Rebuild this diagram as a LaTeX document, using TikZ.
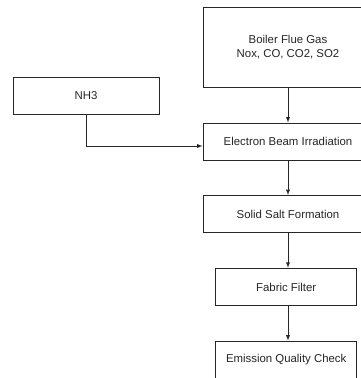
\documentclass[tikz,border=0pt]{standalone}
\usepackage{fontspec}
\setmainfont{Liberation Sans}
\usepackage{tikz}
\usetikzlibrary{positioning,calc}
\definecolor{flowline}{rgb}{0.15, 0.15, 0.15}
\tikzstyle{flowedge} = [flowline, line width = 0.9pt, -latex]
\tikzstyle{flowbox} = [rectangle, draw = flowline, line width = 0.9pt, fill = white, text = black!85, inner sep = 0pt, minimum height = 37pt, align = center, font = \fontsize{11.4}{13.5}\selectfont]
\tikzstyle{widebox} = [minimum width = 170pt]
\tikzstyle{narrowbox} = [minimum width = 146pt]
\begin{document}
\begin{tikzpicture}[x = 1pt, y = -1pt]
\useasboundingbox (0, 0) rectangle (360, 378);
\node[flowbox, widebox, minimum height = 80pt] (gas) at (288, 47.3) {Boiler Flue Gas\\Nox, CO, CO2, SO2};
\node[flowbox, narrowbox] (nh3) at (86, 95.5) {NH3};
\node[flowbox, widebox] (ebeam) at (288, 141.5) {Electron Beam Irradiation};
\node[flowbox, widebox] (salt) at (288, 214) {Solid Salt Formation};
\node[flowbox, minimum width = 141pt, minimum height = 37.5pt] (filter) at (286.2, 287) {Fabric Filter};
\node[flowbox, minimum width = 141pt] (check) at (286.2, 359.5) {Emission Quality Check};
\draw[flowedge] (gas) -- (ebeam);
\draw[flowedge] (nh3.south) |- ([yshift = -4.5pt]ebeam.west);
\draw[flowedge] (ebeam) -- (salt);
\draw[flowedge] (salt.south) -- (salt.south |- filter.north);
\draw[flowedge] (filter.south -| salt.south) -- (check.north -| salt.south);
\end{tikzpicture}
\end{document}
